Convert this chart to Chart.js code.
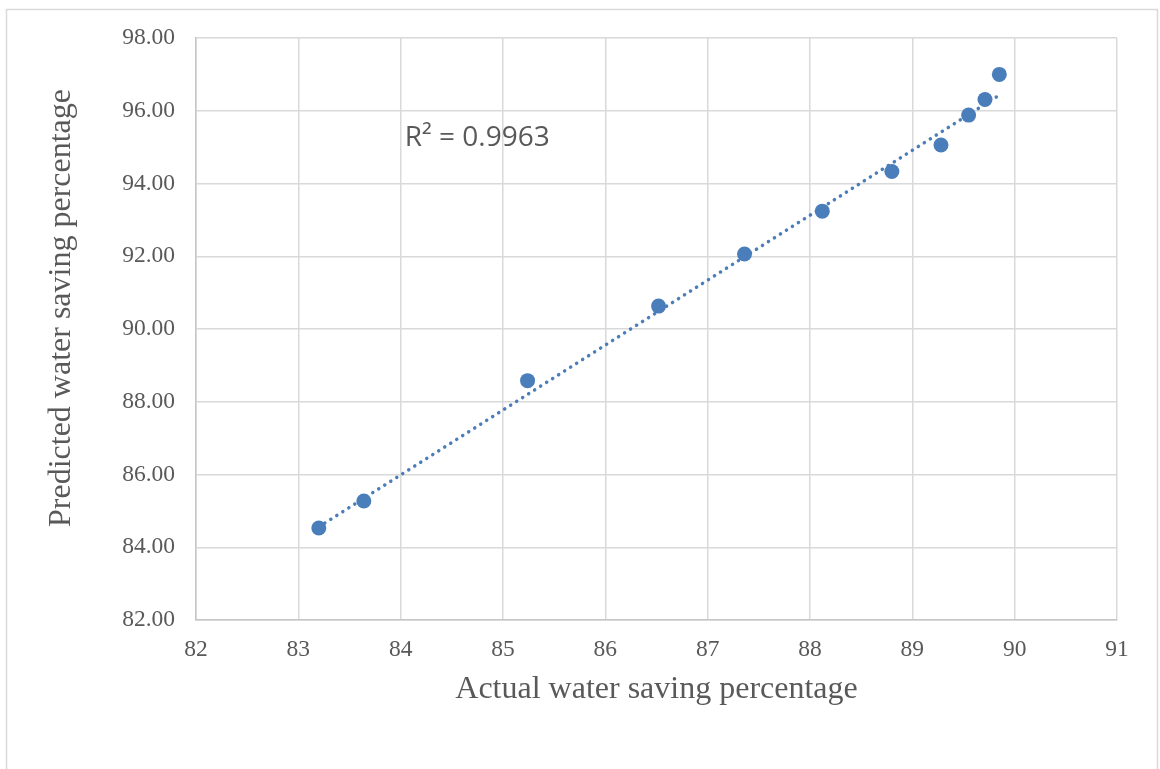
<!DOCTYPE html>
<html>
<head>
<meta charset="utf-8">
<script src="https://cdn.jsdelivr.net/npm/chart.js@4.4.1/dist/chart.umd.min.js"></script>
<style>
    html, body { margin: 0; padding: 0; background: #ffffff; }
    #chart { display: block; }
</style>
</head>
<body>
<canvas id="chart" width="1160" height="769"></canvas>
<script>
// values
var actualSaving = [83.20, 83.64, 85.24, 86.52, 87.36, 88.12, 88.80, 89.28, 89.55, 89.71, 89.85];
var predictedSaving = [84.53, 85.27, 88.58, 90.63, 92.06, 93.24, 94.33, 95.06, 95.88, 96.31, 97.00];
// dotted trendline ends
var trendX = [83.20, 89.85];
var trendY = [84.56, 96.43];
var rSquaredLabel = 'R² = 0.9963';
var xTitle = 'Actual water saving percentage';
var yTitle = 'Predicted water saving percentage';

var blue = '#4a7ebb';
var textGrey = '#595959';
var serif = '"Liberation Serif", "Times New Roman", serif';

function toPoints(xs, ys) {
    var pts = [];
    for (var i = 0; i < xs.length; i++) {
        pts.push({ x: xs[i], y: ys[i] });
    }
    return pts;
}

// outer frame, y title and R² label
var extras = {
    id: 'extras',
    beforeDraw: function(chart) {
        var ctx = chart.ctx;
        ctx.save();
        ctx.strokeStyle = '#d9d9d9';
        ctx.lineWidth = 1.5;
        ctx.strokeRect(6.5, 9.5, 1151, 800);
        ctx.restore();
    },
    afterDraw: function(chart) {
        var ctx = chart.ctx;
        var xs = chart.scales.x;
        var ys = chart.scales.y;
        ctx.save();
        ctx.fillStyle = textGrey;
        ctx.font = '32px ' + serif;
        ctx.textAlign = 'center';
        ctx.textBaseline = 'middle';
        ctx.translate(62, 308);
        ctx.rotate(-Math.PI / 2);
        ctx.fillText(yTitle, 0, 0);
        ctx.restore();

        ctx.save();
        ctx.fillStyle = textGrey;
        ctx.font = '28px "Open Sans", sans-serif';
        ctx.textAlign = 'left';
        ctx.textBaseline = 'middle';
        ctx.fillText(rSquaredLabel, xs.getPixelForValue(84.04), ys.getPixelForValue(95.24));
        ctx.restore();
    }
};

new Chart(document.getElementById('chart'), {
    type: 'scatter',
    data: {
        datasets: [{
            label: 'data',
            data: toPoints(actualSaving, predictedSaving),
            backgroundColor: blue,
            borderColor: blue,
            pointRadius: 7.5,
            pointHoverRadius: 7.5,
            borderWidth: 0,
            order: 1
        }, {
            type: 'line',
            label: 'trend',
            data: toPoints(trendX, trendY),
            borderColor: blue,
            borderWidth: 3.5,
            borderDash: [0.1, 7],
            borderCapStyle: 'round',
            pointRadius: 0,
            fill: false,
            order: 2
        }]
    },
    options: {
        responsive: false,
        devicePixelRatio: 1,
        animation: false,
        layout: { padding: { left: 0, top: 38, right: 43, bottom: 0 } },
        plugins: {
            legend: { display: false },
            tooltip: { enabled: false }
        },
        scales: {
            x: {
                type: 'linear',
                min: 82,
                max: 91,
                afterFit: function(scale) { scale.height = 149; },
                ticks: {
                    stepSize: 1,
                    padding: 16,
                    color: textGrey,
                    font: { family: serif, size: 23.5 }
                },
                grid: { color: '#d9d9d9', lineWidth: 1.5, drawTicks: false },
                border: { color: '#c6c6c6', width: 1.5 },
                title: {
                    display: true,
                    text: xTitle,
                    color: textGrey,
                    font: { family: serif, size: 32 },
                    padding: { top: 0, bottom: 60 }
                }
            },
            y: {
                type: 'linear',
                min: 82,
                max: 98,
                afterFit: function(scale) { scale.width = 196; },
                ticks: {
                    stepSize: 2,
                    padding: 21,
                    color: textGrey,
                    font: { family: serif, size: 23.5 },
                    callback: function(v) { return v.toFixed(2); }
                },
                grid: { color: '#d9d9d9', lineWidth: 1.5, drawTicks: false },
                border: { color: '#c6c6c6', width: 1.5 }
            }
        }
    },
    plugins: [extras]
});
</script>
</body>
</html>
